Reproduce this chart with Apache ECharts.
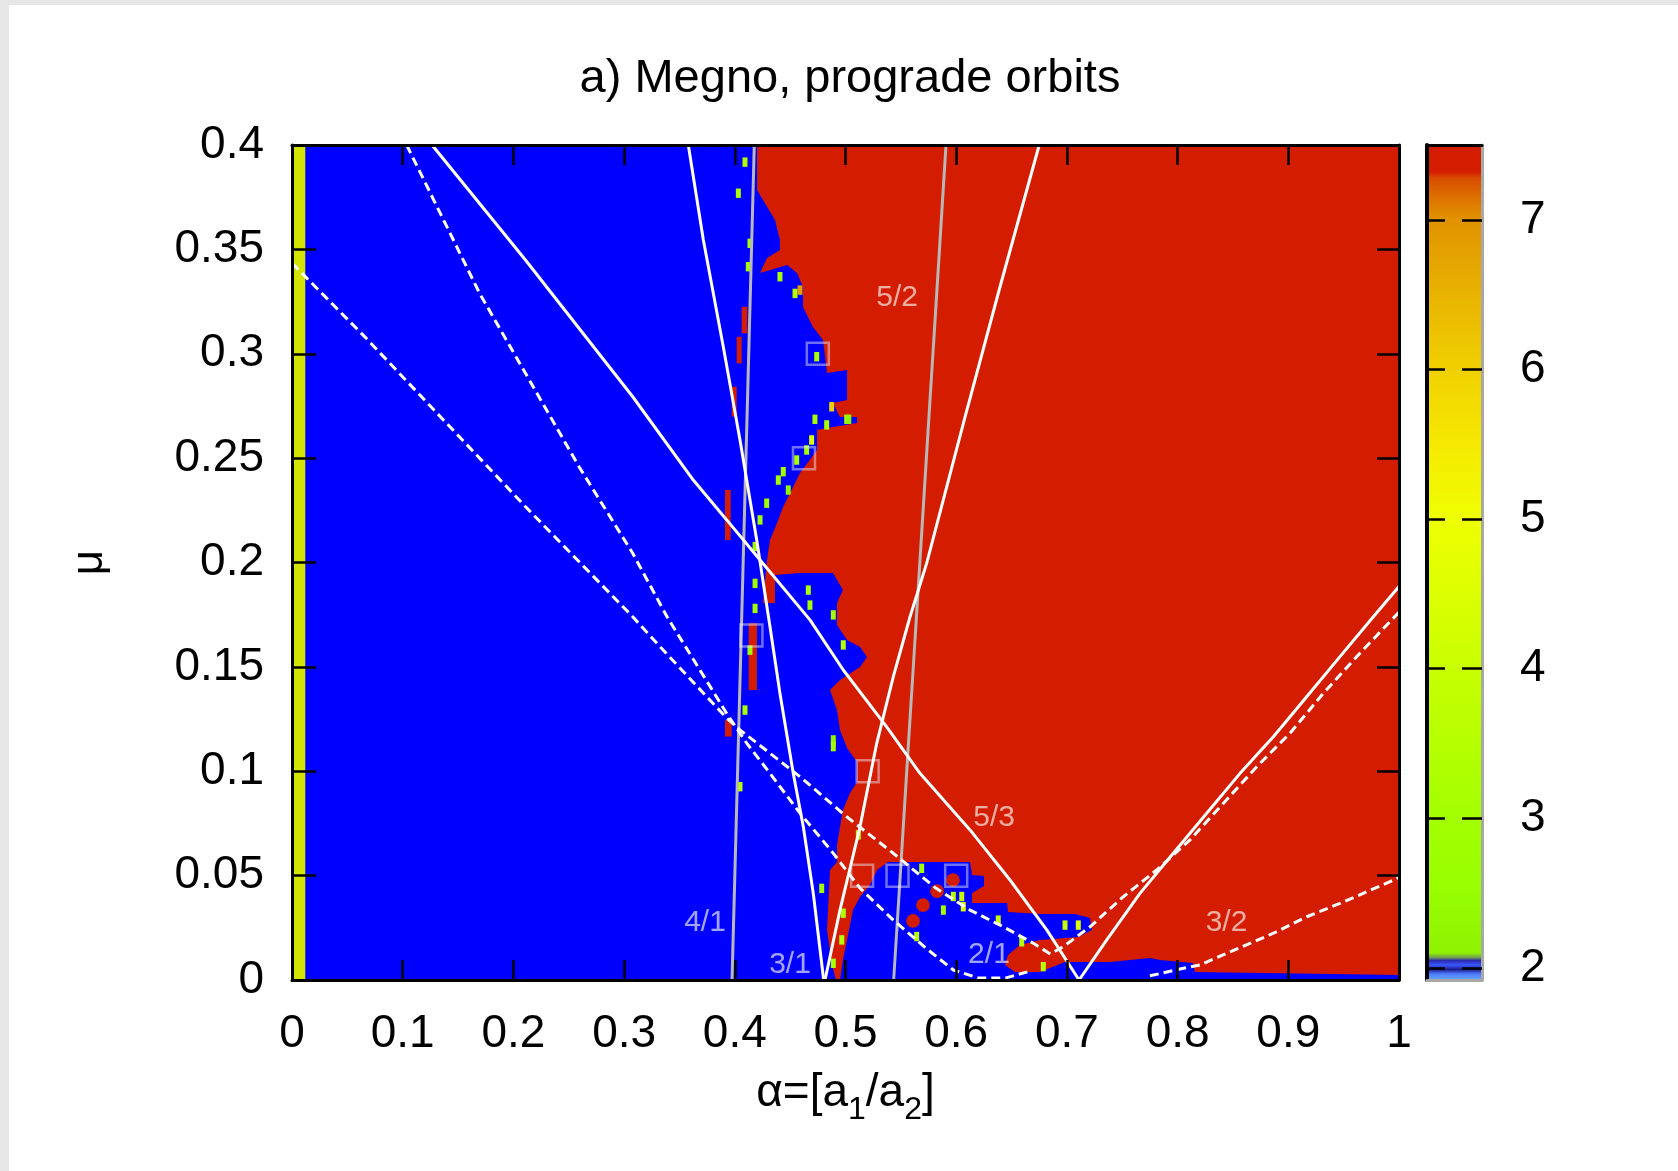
<!DOCTYPE html>
<html><head><meta charset="utf-8">
<script src="https://cdn.jsdelivr.net/npm/echarts@6/dist/echarts.min.js"></script>
<style>
html,body{margin:0;padding:0;background:#e6e6e6;width:1678px;height:1171px;overflow:hidden;}
#paper{position:absolute;left:9px;top:5px;right:0;bottom:0;background:#fff;}
#chart{position:absolute;left:0;top:0;width:1678px;height:1171px;}
</style></head><body><div id="paper"></div><div id="chart"></div>
<script>
// ---------------- data (alpha, mu) ----------------
const alphaRange = [0, 1];
const muRange = [0, 0.4];
const megnoRange = [1.92, 7.5];
const megnoTicks = [2, 3, 4, 5, 6, 7];

// chaotic (red) region outline
const chaoticRegion = [
 [0.4201,0.4000],[0.4201,0.3784],[0.4255,0.3737],[0.4363,0.3641],[0.4408,0.3545],[0.4408,0.3497],
 [0.4291,0.3459],[0.4228,0.3387],[0.4472,0.3425],[0.4562,0.3387],[0.4616,0.3320],[0.4616,0.3224],
 [0.4706,0.3128],[0.4797,0.3066],[0.4833,0.2908],[0.5014,0.2922],[0.5014,0.2778],[0.4887,0.2764],
 [0.4950,0.2697],[0.5104,0.2697],[0.5104,0.2668],[0.4887,0.2649],[0.4743,0.2635],[0.4743,0.2539],
 [0.4589,0.2429],[0.4499,0.2333],[0.4436,0.2266],[0.4381,0.2189],[0.4318,0.2108],[0.4291,0.2012],
 [0.4255,0.1806],[0.4363,0.1806],[0.4363,0.1940],[0.4589,0.1950],[0.4887,0.1950],[0.4977,0.1868],
 [0.4923,0.1806],[0.4923,0.1701],[0.5014,0.1629],[0.5131,0.1595],[0.5194,0.1547],[0.5131,0.1499],
 [0.4950,0.1437],[0.4860,0.1389],[0.4923,0.1293],[0.4950,0.1198],[0.5014,0.1111],[0.5104,0.1044],
 [0.5104,0.0949],[0.5041,0.0896],[0.4977,0.0814],[0.4950,0.0733],[0.4923,0.0647],[0.4923,0.0565],
 [0.4860,0.0527],[0.4833,0.0240],[0.4878,0.0072],[0.4914,0.0000],[1.0000,0.0000],[1.0000,0.4000]
];
// regular (blue) island at the bottom
const regularIsland = [
 [0.4950,0.0000],[0.4977,0.0096],[0.5023,0.0216],[0.5068,0.0335],[0.5131,0.0398],[0.5221,0.0455],
 [0.5285,0.0527],[0.5384,0.0565],[0.6125,0.0565],[0.6143,0.0503],[0.6251,0.0498],[0.6251,0.0450],
 [0.6143,0.0417],[0.6143,0.0369],[0.6459,0.0369],[0.6468,0.0326],[0.6757,0.0316],[0.7073,0.0316],
 [0.7209,0.0297],[0.7227,0.0240],[0.7100,0.0206],[0.6757,0.0192],[0.6576,0.0168],[0.6468,0.0120],
 [0.6441,0.0072],[0.6531,0.0038],[0.6757,0.0038],[0.6983,0.0086],[0.7389,0.0086],[0.7751,0.0105],
 [0.7841,0.0096],[0.8139,0.0081],[0.8157,0.0038],[1.0000,0.0024],[1.0000,0.0000]
];
// strip at alpha ~ 0
const edgeStrip = [[0,0],[0.012,0],[0.012,0.4],[0,0.4]];
// small chaotic patches [alpha0, alpha1, mu0, mu1]
const chaoticPatches = [
 [0.4017,0.4062,0.2954,0.3081],[0.3911,0.3963,0.2108,0.2347],[0.4062,0.4113,0.3098,0.3225],
 [0.3972,0.4017,0.2699,0.2842],[0.3911,0.3972,0.1166,0.1245],[0.4125,0.4200,0.1389,0.1709]
];
// chaotic dots inside the bottom island
const chaoticDots = [[0.570,0.0359],[0.561,0.0283],[0.5827,0.0426],[0.5971,0.0479]];
// intermediate MEGNO cells [alpha, mu, megno]
const speckles = [
 [0.4092,0.3918,3.4],[0.4032,0.3769,3.2],[0.4137,0.3529,3.0],[0.4122,0.3417,3.0],[0.4408,0.3369,3.1],
 [0.4544,0.3289,3.5],[0.4589,0.3305,6.8],[0.4740,0.2986,3.2],[0.4875,0.2746,6.0],[0.4830,0.2659,3.2],
 [0.5011,0.2686,3.0],[0.5030,0.2686,2.1],[0.4724,0.2686,3.0],[0.4694,0.2587,4.5],[0.4649,0.2539,3.0],
 [0.4559,0.2491,3.0],[0.4438,0.2435,3.0],[0.4393,0.2395,3.0],[0.4483,0.2347,2.2],[0.4288,0.2284,3.0],
 [0.4228,0.2204,3.0],[0.4183,0.2076,3.0],[0.4183,0.1900,3.0],[0.4183,0.1780,3.0],[0.4137,0.1580,3.0],
 [0.4092,0.1293,3.2],[0.4047,0.0926,3.5],[0.4664,0.1868,3.2],[0.4679,0.1796,3.0],[0.4890,0.1749,3.0],
 [0.4980,0.1605,3.5],[0.4890,0.1150,2.3],[0.4890,0.1118,3.0],[0.5116,0.0695,3.0],[0.4785,0.0439,3.0],
 [0.4980,0.0320,3.2],[0.4966,0.0192,3.5],[0.4890,0.0080,3.2],[0.5884,0.0335,3.0],[0.5974,0.0400,3.5],
 [0.6050,0.0400,4.0],[0.6064,0.0351,4.5],[0.5643,0.0208,3.5],[0.6380,0.0287,4.0],[0.6592,0.0183,3.5],
 [0.6983,0.0263,4.0],[0.7103,0.0263,4.5],[0.6787,0.0064,3.5],[0.5688,0.0535,3.0]
];
// resonance curves
const res41 = [[0.4176,0.4],[0.3975,0]];
const res52 = [[0.5908,0.4],[0.5435,0]];
const res31a = [[0.358,0.4],[0.3716,0.3545],[0.3896,0.3034],[0.4047,0.2587],[0.4198,0.2108],[0.4318,0.1692],
 [0.4408,0.1373],[0.4528,0.0990],[0.4619,0.0734],[0.4709,0.0415],[0.4803,0]];
const res31b = [[0.4815,0],[0.4950,0.0335],[0.5131,0.0734],[0.5282,0.1134],[0.5432,0.1453],[0.5583,0.1740],
 [0.5733,0.1996],[0.6073,0.2683],[0.6396,0.3321],[0.6750,0.4]];
const res53a = [[0.1265,0.4],[0.2109,0.3449],[0.3078,0.2794],[0.3625,0.2395],[0.3927,0.2204],[0.4228,0.2012],
 [0.4679,0.1725],[0.4980,0.1485],[0.5372,0.1213],[0.5673,0.0990],[0.6125,0.0719],[0.6486,0.0479],[0.6818,0.0240],[0.7110,0]];
const res53b = [[0.7110,0],[0.7360,0.0192],[0.7660,0.0415],[0.7961,0.0607],[0.8263,0.0799],[0.8564,0.0990],
 [0.8865,0.1165],[0.9166,0.1357],[0.9467,0.1549],[0.9768,0.1740],[1,0.1885]];
const sep21a = [[0,0.3434],[0.0658,0.3081],[0.2110,0.2267],[0.2490,0.2060],[0.3078,0.1740],[0.3324,0.1597],
 [0.3927,0.1255],[0.4047,0.1198],[0.4589,0.0974],[0.5011,0.0782],[0.5432,0.0607],[0.5819,0.0439],[0.6125,0.0335],
 [0.6425,0.0255],[0.6697,0.0176],[0.6850,0.0125],[0.6968,0.0160],[0.7209,0.0255],[0.7510,0.0399],[0.7811,0.0527],
 [0.8112,0.0671],[0.8413,0.0846],[0.8715,0.1022],[0.9015,0.1182],[0.9316,0.1373],[0.9618,0.1549],[1,0.1762]];
const sep21b = [[0.1036,0.4],[0.1695,0.3289],[0.2593,0.2459],[0.3078,0.2044],[0.3388,0.1740],[0.3927,0.1277],
 [0.4108,0.1134],[0.4318,0.0990],[0.4589,0.0799],[0.4890,0.0607],[0.5131,0.0440],[0.5432,0.0287],[0.5733,0.0150],
 [0.5974,0.0048],[0.6200,0.0010],[0.6450,0.0010],[0.6650,0.0040]];
const res32 = [[0.7750,0.0020],[0.8000,0.0050],[0.8202,0.0072],[0.8444,0.0128],[0.8865,0.0224],[0.9166,0.0303],
 [0.9467,0.0367],[0.9919,0.0471],[1,0.0493]];
// marked initial conditions
const markers = [[0.475,0.30],[0.4625,0.25],[0.415,0.165],[0.52,0.10],[0.515,0.05],[0.547,0.05],[0.60,0.05]];
// resonance labels
const resLabelText = ['5/2','5/3','4/1','3/1','2/1','3/2'];
const resLabelPos = [[0.5467,0.3269],[0.6342,0.0776],[0.3731,0.0273],[0.4499,0.0072],[0.6296,0.012],[0.8442,0.0273]];

// ---------------- styling ----------------
const FONT = "'Liberation Sans', Arial, sans-serif";
const RED = '#d41c00', BLUE = '#0000ff';
const paletteStops = [
 [1.92,'#66aaff'],[1.96,'#4f7dff'],[1.99,'#1c1c8c'],[2.02,'#3a58ff'],[2.05,'#2a2ab0'],[2.07,'#6f9a55'],
 [2.1,'#8ef200'],[2.6,'#99ff00'],[3,'#a3ff00'],[3.5,'#b5ff00'],[4,'#c8ff00'],[4.5,'#dcff00'],[5,'#eeff00'],
 [5.5,'#f6e900'],[6,'#f0d000'],[6.5,'#e8b300'],[7,'#e19300'],[7.1,'#df7d00'],[7.2,'#dc6300'],[7.28,'#d94c00'],
 [7.32,RED],[7.5,RED]
];
function hex2rgb(h){return [parseInt(h.substr(1,2),16),parseInt(h.substr(3,2),16),parseInt(h.substr(5,2),16)];}
function colorAt(v){
  if(v<=paletteStops[0][0]) return paletteStops[0][1];
  for(let i=1;i<paletteStops.length;i++){
    if(v<=paletteStops[i][0]){
      const a=paletteStops[i-1], b=paletteStops[i];
      const t=(v-a[0])/(b[0]-a[0]); const ca=hex2rgb(a[1]), cb=hex2rgb(b[1]);
      return 'rgb('+ca.map((c,k)=>Math.round(c+(cb[k]-c)*t)).join(',')+')';
    }
  }
  return paletteStops[paletteStops.length-1][1];
}

function polygonSeries(points, color, z){
  return {type:'custom', coordinateSystem:'cartesian2d', xAxisIndex:0, yAxisIndex:0, silent:true, z:z,
    clip:true, animation:false, data:[[0,0]],
    renderItem:(params, api)=>({type:'polygon', shape:{points:points.map(p=>api.coord(p))}, style:{fill:color}})};
}
function lineSeries(data, color, width, dashed, z){
  return {type:'line', xAxisIndex:0, yAxisIndex:0, data:data, showSymbol:false, symbol:'none', silent:true,
    clip:true, animation:false, z:z||5, lineStyle:{color:color, width:width, type: dashed?[9,5]:'solid'}};
}
const fmt = v => String(Math.round(v*100)/100);

const chart = echarts.init(document.getElementById('chart'), null, {renderer:'canvas'});
const option = {
  animation:false,
  backgroundColor:'transparent',
  title:{text:'a) Megno, prograde orbits', left:845, textAlign:'center', top:51,
    textStyle:{fontSize:47, fontWeight:'normal', color:'#000', fontFamily:FONT}},
  grid:[
    {left:292, top:145, width:1107, height:835, show:false},
    {left:1427, top:145, width:55, height:835, show:false}
  ],
  xAxis:[
    {type:'value', gridIndex:0, min:alphaRange[0], max:alphaRange[1], interval:0.1, position:'bottom', z:10,
     axisLine:{show:true, onZero:false, lineStyle:{color:'#000', width:3}},
     axisTick:{show:true, inside:true, length:20, lineStyle:{color:'#000', width:2.5}},
     axisLabel:{fontSize:46, color:'#000', margin:31, fontFamily:FONT, formatter:fmt},
     splitLine:{show:false},
     name:'{m|α=[a}{s|1}{m|/a}{s|2}{m|]}', nameLocation:'middle', nameGap:90,
     nameTextStyle:{color:'#000', fontFamily:FONT,
       rich:{m:{fontSize:46, lineHeight:46, verticalAlign:'top', fontFamily:FONT, color:'#000'},
             s:{fontSize:32, lineHeight:56, verticalAlign:'bottom', fontFamily:FONT, color:'#000'}}}},
    {type:'value', gridIndex:0, min:alphaRange[0], max:alphaRange[1], interval:0.1, position:'top', z:10,
     axisLine:{show:true, onZero:false, lineStyle:{color:'#000', width:3}},
     axisTick:{show:true, inside:true, length:20, lineStyle:{color:'#000', width:2.5}},
     axisLabel:{show:false}, splitLine:{show:false}},
    {type:'value', gridIndex:1, min:0, max:1, position:'bottom', z:10,
     axisLine:{show:true, onZero:false, lineStyle:{color:'#a8a8a8', width:3}},
     axisTick:{show:false}, axisLabel:{show:false}, splitLine:{show:false}},
    {type:'value', gridIndex:1, min:0, max:1, position:'top', z:10,
     axisLine:{show:true, onZero:false, lineStyle:{color:'#000', width:3}},
     axisTick:{show:false}, axisLabel:{show:false}, splitLine:{show:false}}
  ],
  yAxis:[
    {type:'value', gridIndex:0, min:muRange[0], max:muRange[1], interval:0.05, position:'left', z:10,
     axisLine:{show:true, onZero:false, lineStyle:{color:'#000', width:3}},
     axisTick:{show:true, inside:true, length:24, lineStyle:{color:'#000', width:2.5}},
     axisLabel:{fontSize:46, color:'#000', margin:28, fontFamily:FONT, formatter:fmt, padding:[8,0,0,0]},
     splitLine:{show:false},
     name:'μ', nameLocation:'middle', nameRotate:90, nameGap:180,
     nameTextStyle:{fontSize:44, color:'#000', fontFamily:FONT}},
    {type:'value', gridIndex:0, min:muRange[0], max:muRange[1], interval:0.05, position:'right', z:10,
     axisLine:{show:true, onZero:false, lineStyle:{color:'#000', width:3}},
     axisTick:{show:true, inside:true, length:22, lineStyle:{color:'#000', width:2.5}},
     axisLabel:{show:false}, splitLine:{show:false}},
    {type:'value', gridIndex:1, min:megnoRange[0], max:megnoRange[1], position:'left', z:10,
     axisLine:{show:true, onZero:false, lineStyle:{color:'#000', width:4}},
     axisTick:{show:true, inside:true, length:18, customValues:megnoTicks, lineStyle:{color:'#000', width:2.5}},
     axisLabel:{show:false}, splitLine:{show:false}},
    {type:'value', gridIndex:1, min:megnoRange[0], max:megnoRange[1], position:'right', z:10,
     axisLine:{show:true, onZero:false, lineStyle:{color:'#a8a8a8', width:3}},
     axisTick:{show:true, inside:true, length:20, customValues:megnoTicks, lineStyle:{color:'#000', width:2.5}},
     axisLabel:{show:true, customValues:megnoTicks, fontSize:46, color:'#000', margin:38, fontFamily:FONT},
     splitLine:{show:false}}
  ],
  series:[
    polygonSeries([[alphaRange[0],muRange[0]],[alphaRange[1],muRange[0]],[alphaRange[1],muRange[1]],[alphaRange[0],muRange[1]]], BLUE, 1),
    polygonSeries(chaoticRegion, RED, 2),
    polygonSeries(regularIsland, BLUE, 3),
    polygonSeries(edgeStrip, '#d2e400', 3),
    {type:'custom', coordinateSystem:'cartesian2d', xAxisIndex:0, yAxisIndex:0, silent:true, z:3, animation:false,
     data:chaoticPatches, encode:{x:[0,1], y:[2,3]},
     renderItem:(params, api)=>{
       const p0=api.coord([api.value(0), api.value(3)]), p1=api.coord([api.value(1), api.value(2)]);
       return {type:'rect', shape:{x:p0[0], y:p0[1], width:p1[0]-p0[0], height:p1[1]-p0[1]}, style:{fill:RED}};
     }},
    {type:'custom', coordinateSystem:'cartesian2d', xAxisIndex:0, yAxisIndex:0, silent:true, z:3, animation:false,
     data:chaoticDots, encode:{x:0, y:1},
     renderItem:(params, api)=>{
       const c=api.coord([api.value(0), api.value(1)]); const r=api.size([0.0062,0])[0];
       return {type:'circle', shape:{cx:c[0], cy:c[1], r:r}, style:{fill:RED}};
     }},
    {type:'custom', coordinateSystem:'cartesian2d', xAxisIndex:0, yAxisIndex:0, silent:true, z:4, animation:false,
     data:speckles, encode:{x:0, y:1},
     renderItem:(params, api)=>{
       const c=api.coord([api.value(0), api.value(1)]); const s=api.size([0.0045,0.0045]);
       return {type:'rect', shape:{x:c[0]-s[0]/2, y:c[1]-s[1]/2, width:s[0], height:s[1]}, style:{fill:colorAt(api.value(2))}};
     }},
    lineSeries(res41, '#b8b8b8', 3, false, 5),
    lineSeries(res52, '#b8b8b8', 3, false, 5),
    lineSeries(res31a, '#ffffff', 3, false, 6),
    lineSeries(res31b, '#ffffff', 3, false, 6),
    lineSeries(res53a, '#ffffff', 3, false, 6),
    lineSeries(res53b, '#ffffff', 3, false, 6),
    lineSeries(sep21a, '#ffffff', 3, true, 6),
    lineSeries(sep21b, '#ffffff', 3, true, 6),
    lineSeries(res32, '#ffffff', 3, true, 6),
    {type:'scatter', xAxisIndex:0, yAxisIndex:0, data:markers, symbol:'rect', symbolSize:22, silent:true, z:7,
     animation:false, itemStyle:{color:'rgba(0,0,0,0)', borderColor:'rgba(235,235,255,0.6)', borderWidth:2.5}},
    {type:'scatter', xAxisIndex:0, yAxisIndex:0, silent:true, z:8, animation:false, symbolSize:1,
     itemStyle:{color:'rgba(0,0,0,0)'},
     data:resLabelPos.map((p,i)=>({value:p, name:resLabelText[i]})),
     label:{show:true, position:'inside', formatter:'{b}', fontSize:30, color:'rgba(255,255,255,0.8)', fontFamily:FONT}},
    // colour bar
    {type:'custom', coordinateSystem:'cartesian2d', xAxisIndex:2, yAxisIndex:2, silent:true, z:2, animation:false,
     data:[[0.5, megnoRange[0]]],
     renderItem:(params, api)=>{
       const p0=api.coord([0, megnoRange[1]]), p1=api.coord([1, megnoRange[0]]);
       const span=megnoRange[1]-megnoRange[0];
       const stops=paletteStops.map(s=>({offset:(megnoRange[1]-s[0])/span, color:s[1]})).reverse();
       return {type:'rect', shape:{x:p0[0], y:p0[1], width:p1[0]-p0[0], height:p1[1]-p0[1]},
               style:{fill:new echarts.graphic.LinearGradient(0,0,0,1,stops)}};
     }}
  ]
};
chart.setOption(option);
</script></body></html>
